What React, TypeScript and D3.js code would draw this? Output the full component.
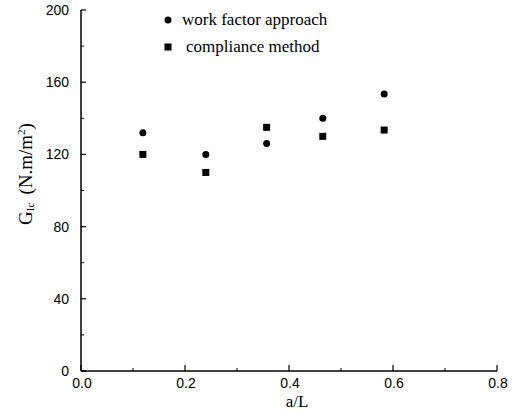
import React, { useEffect, useRef } from "react";
import * as d3 from "d3";

// a/L positions of the measurements
const crackRatio = [0.119, 0.24, 0.357, 0.465, 0.583];
// G_Ic values, work factor approach (circles)
const workFactor = [132, 120, 126, 140, 153.5];
// G_Ic values, compliance method (squares)
const compliance = [120, 110, 135, 130, 133.5];

const xTicks = [0, 0.2, 0.4, 0.6, 0.8];
const xMinor = [0.1, 0.3, 0.5, 0.7];
const yTicks = [0, 40, 80, 120, 160, 200];
const yMinor = [20, 60, 100, 140, 180];

export default function App() {
  const svgRef = useRef<SVGSVGElement | null>(null);

  useEffect(() => {
    const svg = d3.select(svgRef.current);
    svg.selectAll("*").remove();

    const width = 527;
    const height = 412;

    const x = d3.scaleLinear().domain([0, 0.8]).range([81, 497]);
    const y = d3.scaleLinear().domain([0, 200]).range([371, 10]);

    const sans = "'Liberation Sans', Arial, sans-serif";
    const serif = "'Liberation Serif', 'Times New Roman', serif";

    // axes lines
    svg.append("line")
      .attr("x1", x(0)).attr("x2", x(0.8))
      .attr("y1", y(0)).attr("y2", y(0))
      .attr("stroke", "#000").attr("stroke-width", 1.5);
    svg.append("line")
      .attr("x1", x(0)).attr("x2", x(0))
      .attr("y1", y(0)).attr("y2", y(200))
      .attr("stroke", "#000").attr("stroke-width", 1.5);

    // y ticks (inward)
    yTicks.forEach((t) => {
      svg.append("line")
        .attr("x1", x(0)).attr("x2", x(0) + 5)
        .attr("y1", y(t)).attr("y2", y(t))
        .attr("stroke", "#000").attr("stroke-width", 1.2);
      svg.append("text")
        .attr("x", 69).attr("y", y(t) + 5)
        .attr("text-anchor", "end")
        .attr("font-family", sans).attr("font-size", 14)
        .text(String(t));
    });
    yMinor.forEach((t) => {
      svg.append("line")
        .attr("x1", x(0)).attr("x2", x(0) + 3)
        .attr("y1", y(t)).attr("y2", y(t))
        .attr("stroke", "#000").attr("stroke-width", 1);
    });

    // x ticks (inward)
    xTicks.forEach((t) => {
      svg.append("line")
        .attr("x1", x(t)).attr("x2", x(t))
        .attr("y1", y(0)).attr("y2", y(0) - 6)
        .attr("stroke", "#000").attr("stroke-width", 1.2);
      svg.append("text")
        .attr("x", x(t) + 1).attr("y", 388)
        .attr("text-anchor", "middle")
        .attr("font-family", sans).attr("font-size", 14)
        .text(t.toFixed(1));
    });
    xMinor.forEach((t) => {
      svg.append("line")
        .attr("x1", x(t)).attr("x2", x(t))
        .attr("y1", y(0)).attr("y2", y(0) - 3)
        .attr("stroke", "#000").attr("stroke-width", 1);
    });

    // axis titles
    svg.append("text")
      .attr("x", 297).attr("y", 407)
      .attr("text-anchor", "middle")
      .attr("font-family", serif).attr("font-size", 17)
      .text("a/L");

    const yTitle = svg.append("text")
      .attr("transform", "translate(32,174) rotate(-90)")
      .attr("text-anchor", "middle")
      .attr("font-family", serif).attr("font-size", 19);
    yTitle.append("tspan").text("G");
    yTitle.append("tspan").attr("font-size", 11).attr("dy", 2).text("Ic");
    yTitle.append("tspan").attr("dy", -2).attr("dx", 8).text("(N.m/m");
    yTitle.append("tspan").attr("font-size", 11).attr("dy", -7).text("2");
    yTitle.append("tspan").attr("dy", 7).text(")");

    // circles
    svg.append("g").selectAll("circle")
      .data(crackRatio)
      .join("circle")
      .attr("cx", (d) => x(d))
      .attr("cy", (d, i) => y(workFactor[i]))
      .attr("r", 3.5)
      .attr("fill", "#000");

    // squares
    svg.append("g").selectAll("rect")
      .data(crackRatio)
      .join("rect")
      .attr("x", (d) => x(d) - 3.5)
      .attr("y", (d, i) => y(compliance[i]) - 3.5)
      .attr("width", 7).attr("height", 7)
      .attr("fill", "#000");

    // legend
    svg.append("circle").attr("cx", 168).attr("cy", 20).attr("r", 3.5).attr("fill", "#000");
    svg.append("text")
      .attr("x", 182).attr("y", 25)
      .attr("font-family", serif).attr("font-size", 17)
      .text("work factor approach");
    svg.append("rect").attr("x", 164.5).attr("y", 43.5).attr("width", 7).attr("height", 7).attr("fill", "#000");
    svg.append("text")
      .attr("x", 186).attr("y", 52)
      .attr("font-family", serif).attr("font-size", 17)
      .text("compliance method");

    svg.attr("width", width).attr("height", height);
  }, []);

  return (
    <div style={{ position: "absolute", left: 0, top: 0 }}>
      <svg ref={svgRef}></svg>
    </div>
  );
}
